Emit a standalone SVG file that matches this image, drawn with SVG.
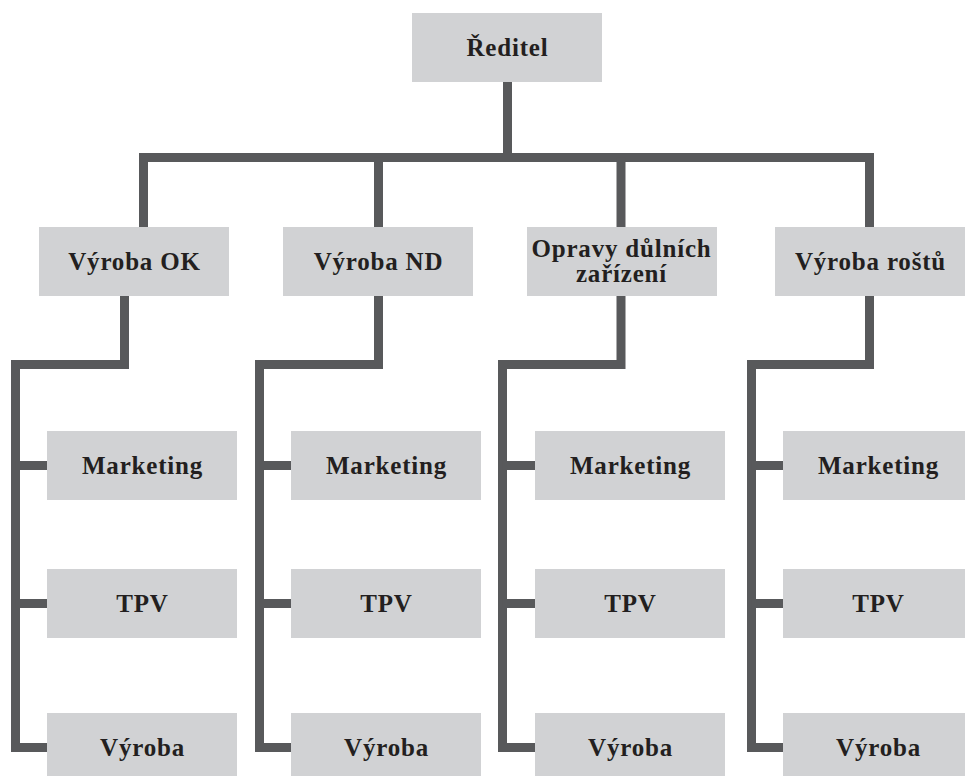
<svg xmlns="http://www.w3.org/2000/svg" width="965" height="776" viewBox="0 0 965 776">
<style>
.box{fill:#d1d2d4}
.t{font-family:"Liberation Serif","Times New Roman",serif;font-weight:bold;font-size:25px;letter-spacing:0.8px;fill:#231f20;text-anchor:middle}
.c{fill:none;stroke:#58595b;stroke-width:9;stroke-linejoin:miter;stroke-linecap:butt}
</style>
<rect width="965" height="776" fill="#ffffff"/>
<g id="connectors">
<path class="c" d="M507.5,82 V157.5"/>
<path class="c" d="M143.5,227 V157.5 H869.5 V227"/>
<path class="c" d="M378.5,157.5 V227"/>
<path class="c" d="M621,157.5 V227"/>
<path class="c" d="M124.5,296 V364.5 H15.5 V747.5 H47"/>
<path class="c" d="M15.5,465.5 H47 M15.5,603.5 H47"/>
<path class="c" d="M378.5,296 V364.5 H259.5 V747.5 H291"/>
<path class="c" d="M259.5,465.5 H291 M259.5,603.5 H291"/>
<path class="c" d="M621,296 V364.5 H502.5 V747.5 H535"/>
<path class="c" d="M502.5,465.5 H535 M502.5,603.5 H535"/>
<path class="c" d="M869.5,296 V364.5 H751.5 V747.5 H783"/>
<path class="c" d="M751.5,465.5 H783 M751.5,603.5 H783"/>
</g>
<g id="reditel"><rect class="box" x="412" y="13" width="190" height="69"/><text class="t" x="507.5" y="56">Ředitel</text></g>
<g id="vyroba-ok"><rect class="box" x="39" y="227" width="190" height="69"/><text class="t" x="134.5" y="270">Výroba OK</text></g>
<g id="vyroba-nd"><rect class="box" x="283" y="227" width="190" height="69"/><text class="t" x="378.5" y="270">Výroba ND</text></g>
<g id="opravy"><rect class="box" x="527" y="227" width="190" height="69"/><text class="t" x="621.5" y="257">Opravy důlních</text><text class="t" x="621.5" y="282">zařízení</text></g>
<g id="vyroba-rostu"><rect class="box" x="775" y="227" width="190" height="69"/><text class="t" x="870.5" y="270">Výroba roštů</text></g>

<g id="marketing-1"><rect class="box" x="47" y="431" width="190" height="69"/><text class="t" x="142.5" y="474">Marketing</text></g>
<g id="tpv-1"><rect class="box" x="47" y="569" width="190" height="69"/><text class="t" x="142.5" y="612">TPV</text></g>
<g id="vyroba-1"><rect class="box" x="47" y="713" width="190" height="69"/><text class="t" x="142.5" y="756">Výroba</text></g>

<g id="marketing-2"><rect class="box" x="291" y="431" width="190" height="69"/><text class="t" x="386.5" y="474">Marketing</text></g>
<g id="tpv-2"><rect class="box" x="291" y="569" width="190" height="69"/><text class="t" x="386.5" y="612">TPV</text></g>
<g id="vyroba-2"><rect class="box" x="291" y="713" width="190" height="69"/><text class="t" x="386.5" y="756">Výroba</text></g>

<g id="marketing-3"><rect class="box" x="535" y="431" width="190" height="69"/><text class="t" x="630.5" y="474">Marketing</text></g>
<g id="tpv-3"><rect class="box" x="535" y="569" width="190" height="69"/><text class="t" x="630.5" y="612">TPV</text></g>
<g id="vyroba-3"><rect class="box" x="535" y="713" width="190" height="69"/><text class="t" x="630.5" y="756">Výroba</text></g>

<g id="marketing-4"><rect class="box" x="783" y="431" width="190" height="69"/><text class="t" x="878.5" y="474">Marketing</text></g>
<g id="tpv-4"><rect class="box" x="783" y="569" width="190" height="69"/><text class="t" x="878.5" y="612">TPV</text></g>
<g id="vyroba-4"><rect class="box" x="783" y="713" width="190" height="69"/><text class="t" x="878.5" y="756">Výroba</text></g>
</svg>
